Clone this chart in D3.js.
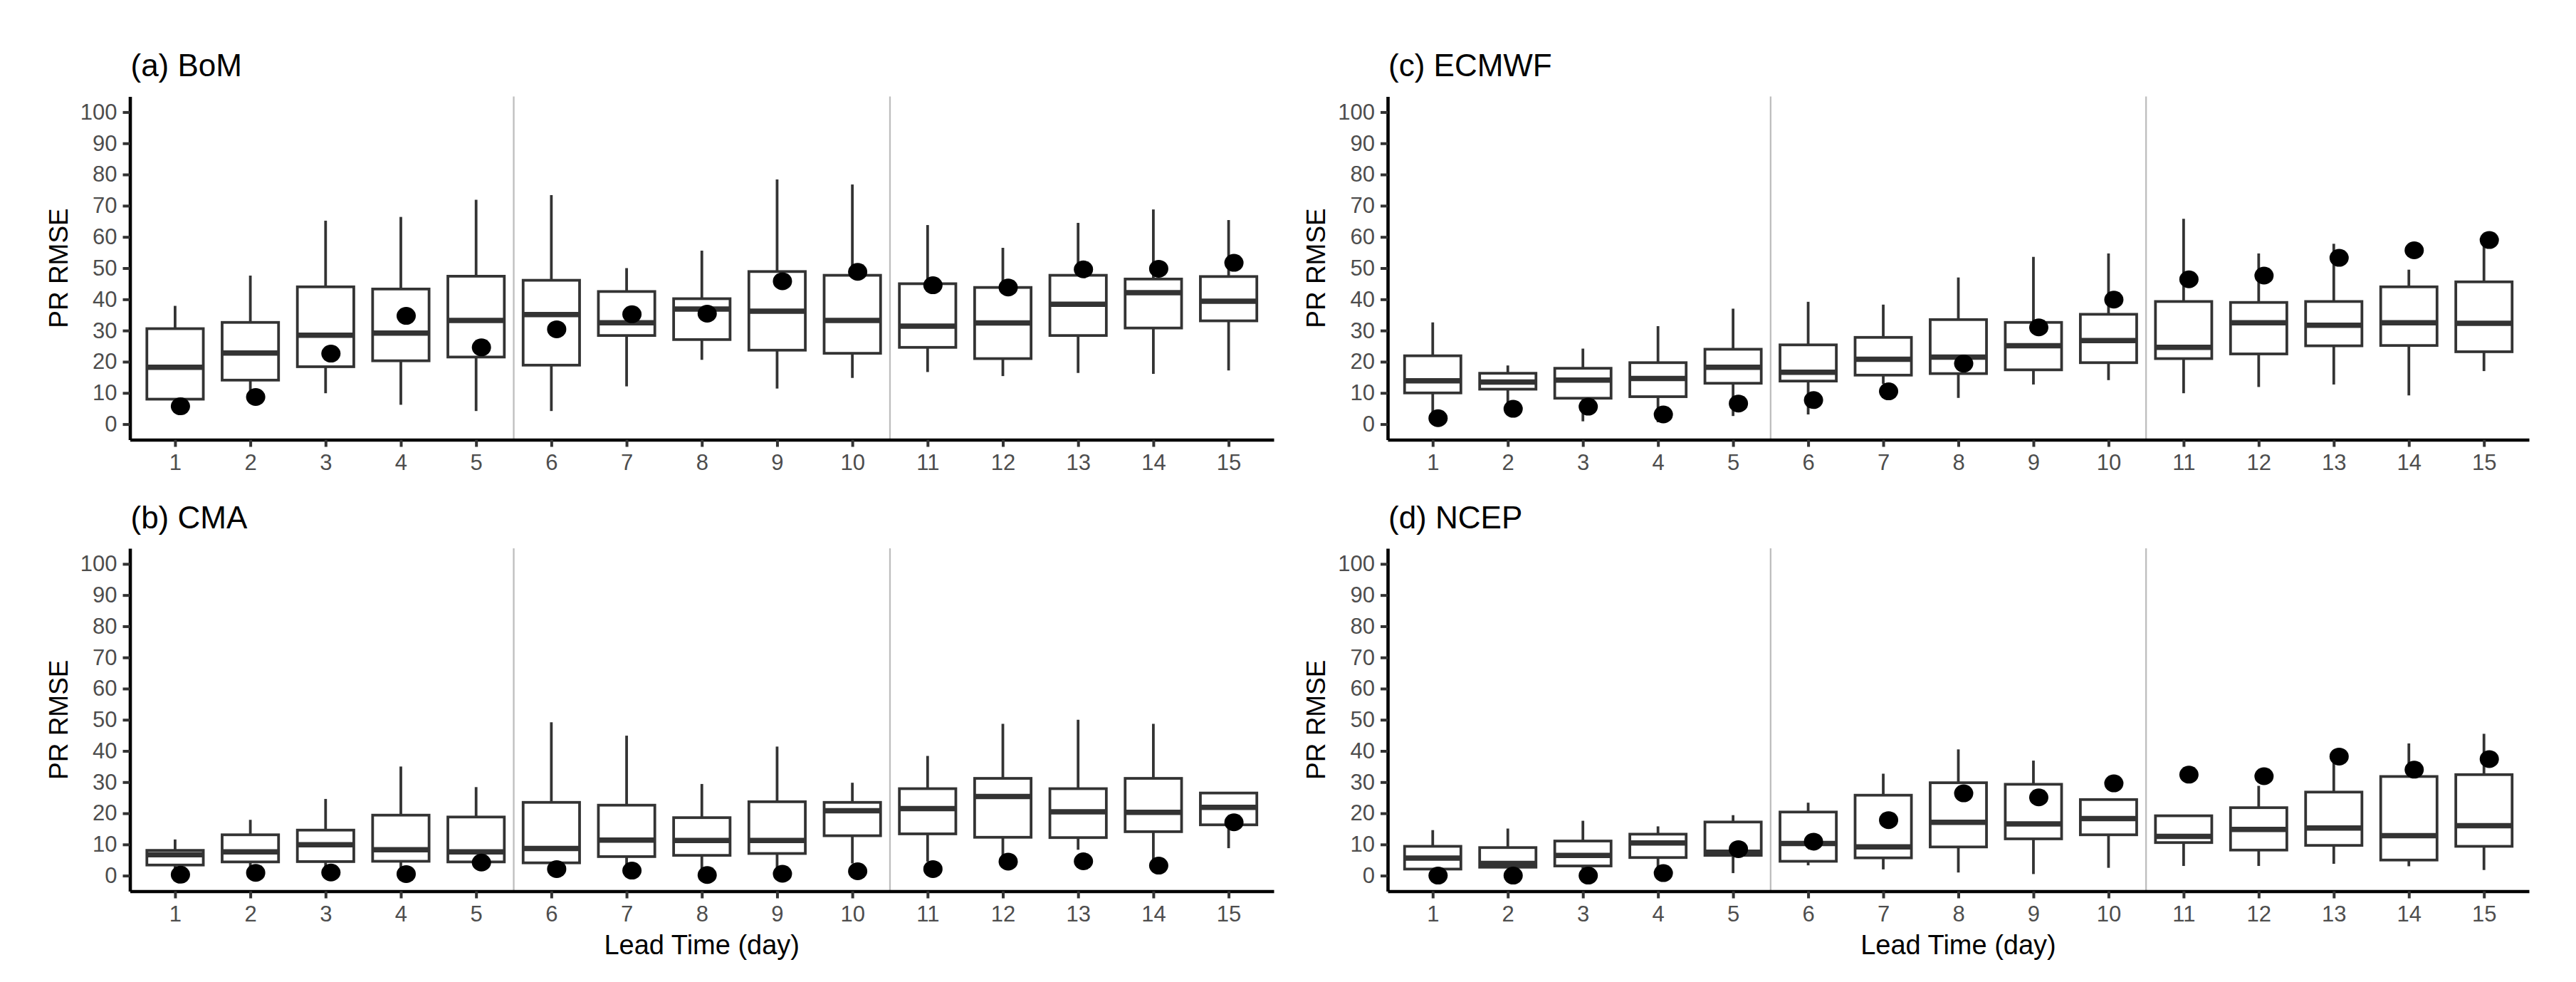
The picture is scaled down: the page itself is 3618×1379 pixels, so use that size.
<!DOCTYPE html>
<html>
<head>
<meta charset="utf-8">
<script src="https://cdn.jsdelivr.net/npm/d3@7"></script>
<style>
  body { margin: 0; background: #fff; }
  svg { display: block; font-family: "Liberation Sans", Arial, sans-serif; }
</style>
</head>
<body>
<svg id="chart" width="3618" height="1379"></svg>
<script>
// lead time categories and axis ticks
const days = [1, 2, 3, 4, 5, 6, 7, 8, 9, 10, 11, 12, 13, 14, 15];
const yTicks = [0, 10, 20, 30, 40, 50, 60, 70, 80, 90, 100];
const separators = [5.5, 10.5];
const titles = ["(a) BoM", "(b) CMA", "(c) ECMWF", "(d) NCEP"];

// BoM
const bomLow  = [8.0, 10.4, 9.9, 6.2, 4.2, 4.2, 12.1, 20.6, 11.4, 14.8, 16.7, 15.4, 16.4, 16.1, 17.2];
const bomQ1   = [8.0, 14.1, 18.4, 20.3, 21.5, 18.9, 28.4, 27.1, 23.7, 22.7, 24.6, 21.0, 28.4, 30.8, 33.1];
const bomMed  = [18.2, 22.8, 28.5, 29.2, 33.2, 35.1, 32.5, 36.9, 36.2, 33.2, 31.4, 32.4, 38.4, 42.1, 39.4];
const bomQ3   = [30.6, 32.6, 44.0, 43.3, 47.4, 46.1, 42.5, 40.2, 48.9, 47.7, 45.0, 43.8, 47.7, 46.5, 47.3];
const bomHigh = [37.9, 47.6, 65.2, 66.4, 71.9, 73.4, 50.0, 55.6, 78.4, 76.8, 63.8, 56.5, 64.5, 68.8, 65.4];
const bomPR   = [5.7, 8.7, 22.6, 34.7, 24.6, 30.4, 35.2, 35.4, 45.8, 48.8, 44.5, 43.8, 49.6, 49.8, 51.7];

// CMA
const cmaLow  = [1.5, 2.1, 2.1, 1.9, 3.0, 2.6, 3.1, 2.1, 2.6, 3.9, 4.5, 6.1, 8.3, 4.6, 8.8];
const cmaQ1   = [3.4, 4.4, 4.5, 4.6, 4.4, 4.1, 6.1, 6.5, 7.1, 12.8, 13.4, 12.3, 12.2, 14.1, 16.3];
const cmaMed  = [6.7, 7.6, 9.9, 8.3, 7.6, 8.7, 11.4, 11.3, 11.3, 20.8, 21.5, 25.4, 20.5, 20.3, 21.9];
const cmaQ3   = [8.1, 13.1, 14.6, 19.4, 18.8, 23.5, 22.6, 18.6, 23.7, 23.5, 27.9, 31.2, 27.9, 31.2, 26.5];
const cmaHigh = [11.6, 17.9, 24.6, 35.0, 28.4, 49.2, 44.9, 29.4, 41.4, 29.8, 38.4, 48.7, 50.0, 48.7, 26.5];
const cmaPR   = [0.3, 0.9, 1.0, 0.5, 4.2, 2.1, 1.6, 0.2, 0.6, 1.4, 2.1, 4.5, 4.6, 3.2, 17.1];

// ECMWF
const ecLow  = [3.4, 6.9, 0.9, 0.6, 2.6, 3.1, 12.9, 8.4, 12.7, 14.1, 9.9, 11.9, 12.7, 9.2, 17.0];
const ecQ1   = [10.0, 11.2, 8.3, 8.8, 13.1, 13.8, 15.7, 16.2, 17.4, 19.7, 21.0, 22.5, 25.1, 25.2, 23.2];
const ecMed  = [13.9, 13.5, 14.1, 14.6, 18.2, 16.6, 20.8, 21.5, 25.1, 26.8, 24.6, 32.5, 31.7, 32.5, 32.3];
const ecQ3   = [21.9, 16.3, 17.9, 19.7, 24.0, 25.4, 27.8, 33.5, 32.6, 35.2, 39.3, 39.0, 39.3, 44.0, 45.6];
const ecHigh = [32.6, 18.8, 24.2, 31.4, 37.0, 39.2, 38.3, 47.0, 53.6, 54.7, 65.8, 54.7, 57.8, 49.5, 58.1];
const ecPR   = [1.9, 4.9, 5.6, 3.1, 6.6, 7.7, 10.5, 19.4, 31.0, 39.9, 46.4, 47.6, 53.3, 55.7, 59.0];

// NCEP
const ncLow  = [2.1, 2.7, 2.0, 2.5, 0.8, 3.3, 2.0, 1.0, 0.5, 2.5, 3.1, 3.1, 3.8, 3.0, 1.8];
const ncQ1   = [2.1, 2.7, 3.1, 5.8, 6.5, 4.6, 5.7, 9.2, 11.8, 13.1, 10.6, 8.2, 9.7, 5.0, 9.4];
const ncMed  = [5.6, 3.9, 6.5, 10.5, 7.5, 10.3, 9.2, 17.1, 16.6, 18.3, 12.6, 14.8, 15.3, 12.8, 16.0];
const ncQ3   = [9.4, 9.0, 11.1, 13.3, 17.2, 20.4, 25.8, 29.8, 29.3, 24.4, 19.2, 21.8, 26.8, 31.8, 32.4];
const ncHigh = [14.6, 15.1, 17.6, 15.8, 19.4, 23.4, 32.7, 40.5, 36.9, 24.4, 19.2, 28.8, 36.7, 42.4, 45.5];
const ncPR   = [0, 0, 0, 0.8, 8.5, 10.9, 17.8, 26.4, 25.1, 29.6, 32.4, 31.9, 38.2, 34.0, 37.4];

const svg = d3.select("#chart");
svg.append("rect").attr("width", 3618).attr("height", 1379).attr("fill", "#fff");

const panels = [
  { title: titles[0], low: bomLow, q1: bomQ1, med: bomMed, q3: bomQ3, high: bomHigh, pr: bomPR, x0: 182.5, x1: 1789, y0: 135.5, y1: 617.5, xlab: false },
  { title: titles[1], low: cmaLow, q1: cmaQ1, med: cmaMed, q3: cmaQ3, high: cmaHigh, pr: cmaPR, x0: 182.5, x1: 1789, y0: 770, y1: 1251.5, xlab: true },
  { title: titles[2], low: ecLow, q1: ecQ1, med: ecMed, q3: ecQ3, high: ecHigh, pr: ecPR, x0: 1949, x1: 3552, y0: 135.5, y1: 617.5, xlab: false },
  { title: titles[3], low: ncLow, q1: ncQ1, med: ncMed, q3: ncQ3, high: ncHigh, pr: ncPR, x0: 1949, x1: 3552, y0: 770, y1: 1251.5, xlab: true }
];

panels.forEach(p => drawPanel(p));

function drawPanel(p) {
  const x = d3.scaleLinear().domain([0.4, 15.6]).range([p.x0, p.x1]);
  const y = d3.scaleLinear().domain([-5, 105]).range([p.y1, p.y0]);
  const g = svg.append("g");
  const unit = x(2) - x(1);
  const boxW = unit * 0.75;
  const dotShift = 7.5;

  // grey lines between lead-time groups
  g.selectAll("line.sep")
    .data(separators)
    .join("line")
    .attr("class", "sep")
    .attr("x1", d => x(d)).attr("x2", d => x(d))
    .attr("y1", p.y0).attr("y2", p.y1)
    .attr("stroke", "#bebebe")
    .attr("stroke-width", 2.3);

  const rows = days.map((d, i) => ({
    day: d, low: p.low[i], q1: p.q1[i], med: p.med[i], q3: p.q3[i], high: p.high[i], pr: p.pr[i]
  }));

  const box = g.selectAll("g.box")
    .data(rows)
    .join("g")
    .attr("class", "box");

  box.append("line")
    .attr("x1", d => x(d.day)).attr("x2", d => x(d.day))
    .attr("y1", d => y(d.q3)).attr("y2", d => y(d.high))
    .attr("stroke", "#333").attr("stroke-width", 3.8);
  box.append("line")
    .attr("x1", d => x(d.day)).attr("x2", d => x(d.day))
    .attr("y1", d => y(d.q1)).attr("y2", d => y(d.low))
    .attr("stroke", "#333").attr("stroke-width", 3.8);
  box.append("rect")
    .attr("x", d => x(d.day) - boxW / 2)
    .attr("y", d => y(d.q3))
    .attr("width", boxW)
    .attr("height", d => y(d.q1) - y(d.q3))
    .attr("fill", "#fff")
    .attr("stroke", "#333").attr("stroke-width", 3.8);
  box.append("line")
    .attr("x1", d => x(d.day) - boxW / 2).attr("x2", d => x(d.day) + boxW / 2)
    .attr("y1", d => y(d.med)).attr("y2", d => y(d.med))
    .attr("stroke", "#333").attr("stroke-width", 7.5);

  g.selectAll("ellipse.pr")
    .data(rows)
    .join("ellipse")
    .attr("class", "pr")
    .attr("cx", d => x(d.day) + dotShift)
    .attr("cy", d => y(d.pr))
    .attr("rx", 13.5)
    .attr("ry", 12.5)
    .attr("fill", "#000");

  // axes
  const xAxis = g.append("g")
    .attr("transform", `translate(0,${p.y1})`)
    .call(d3.axisBottom(x).tickValues(days).tickFormat(d3.format("d")).tickSize(10).tickSizeOuter(0).tickPadding(10));
  const yAxis = g.append("g")
    .attr("transform", `translate(${p.x0},0)`)
    .call(d3.axisLeft(y).tickValues(yTicks).tickSize(10).tickSizeOuter(0).tickPadding(8));

  [xAxis, yAxis].forEach(a => {
    a.select(".domain").attr("stroke", "#000").attr("stroke-width", 4.6);
    a.selectAll(".tick line").attr("stroke", "#333").attr("stroke-width", 4);
    a.selectAll(".tick text")
      .attr("fill", "#4d4d4d")
      .style("font-size", "31px")
      .style("font-family", "'Liberation Sans', Arial, sans-serif");
  });

  g.append("text")
    .attr("x", p.x0 + 1)
    .attr("y", p.y0 - 28.5)
    .attr("fill", "#000")
    .style("font-size", "44px")
    .text(p.title);

  g.append("text")
    .attr("transform", `translate(${p.x0 - 88},${(p.y0 + p.y1) / 2}) rotate(-90)`)
    .attr("text-anchor", "middle")
    .attr("fill", "#000")
    .style("font-size", "37px")
    .text("PR RMSE");

  if (p.xlab) {
    g.append("text")
      .attr("x", (p.x0 + p.x1) / 2)
      .attr("y", 1340)
      .attr("text-anchor", "middle")
      .attr("fill", "#000")
      .style("font-size", "38px")
      .text("Lead Time (day)");
  }
}
</script>
</body>
</html>
